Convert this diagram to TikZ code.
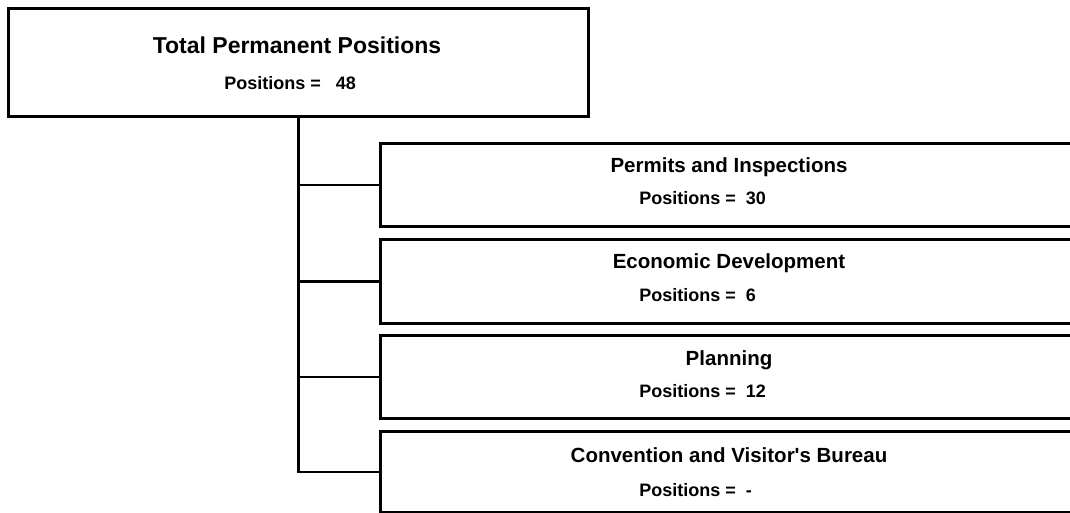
\documentclass[tikz,border=0pt]{standalone}
\usepackage{fontspec}
\setmainfont{Liberation Sans}[Ligatures=NoCommon]
\usepackage{tikz}
\usetikzlibrary{positioning, arrows.meta}
\tikzset{
        x=1pt, y=-1pt, % coordinates follow the page pixels, y going down
    }
\tikzstyle{unitbox}=[draw,rectangle,line width=2.8pt,inner sep=0pt,anchor=north west]
\tikzstyle{headtext}=[font=\fontsize{23}{26}\selectfont\bfseries,inner sep=0pt]
\tikzstyle{nametext}=[font=\fontsize{20.5}{24}\selectfont\bfseries,inner sep=0pt]
\tikzstyle{counttext}=[font=\fontsize{18}{21}\selectfont\bfseries,inner sep=0pt,anchor=west]
\tikzstyle{link}=[draw,line width=2.8pt]

\begin{document}
\begin{tikzpicture}[line width=2.8pt]
    \useasboundingbox (0,0) rectangle (1070,512);
    \clip (0,0) rectangle (1070,512);
    \fill[white] (0,0) rectangle (1070,512);

    % top box
    \node[unitbox,minimum width=580pt,minimum height=108pt] (total) at (7,7) {};
    \node[headtext] (total-name) at (297,45) {Total Permanent Positions};
    \node[counttext] (total-count) at (223,83) {Positions = \ \ 48};

    % department boxes
    \node[unitbox,minimum width=700pt,minimum height=83pt] (permits) at (379,142) {};
    \node[nametext] (permits-name) at (729,167) {Permits and Inspections};
    \node[counttext] (permits-count) at (638,198) {Positions = \ 30};

    \node[unitbox,minimum width=700pt,minimum height=84pt] (econ) at (379,238) {};
    \node[nametext] (econ-name) at (729,263) {Economic Development};
    \node[counttext] (econ-count) at (638,295) {Positions = \ 6};

    \node[unitbox,minimum width=700pt,minimum height=83pt] (planning) at (379,334) {};
    \node[nametext] (planning-name) at (729,360) {Planning};
    \node[counttext] (planning-count) at (638,391) {Positions = \ 12};

    \node[unitbox,minimum width=700pt,minimum height=81pt] (bureau) at (379,430) {};
    \node[nametext] (bureau-name) at (729,455) {Convention and Visitor\textquotesingle s Bureau};
    \node[counttext] (bureau-count) at (638,490) {Positions = \ -};

    % connectors
    \draw[link] (total.south) |- (permits.west);
    \draw[link] (total.south) |- (econ.west);
    \draw[link] (total.south) |- (planning.west);
    \draw[link] (total.south) |- (bureau.west);
  \end{tikzpicture}
\end{document}
